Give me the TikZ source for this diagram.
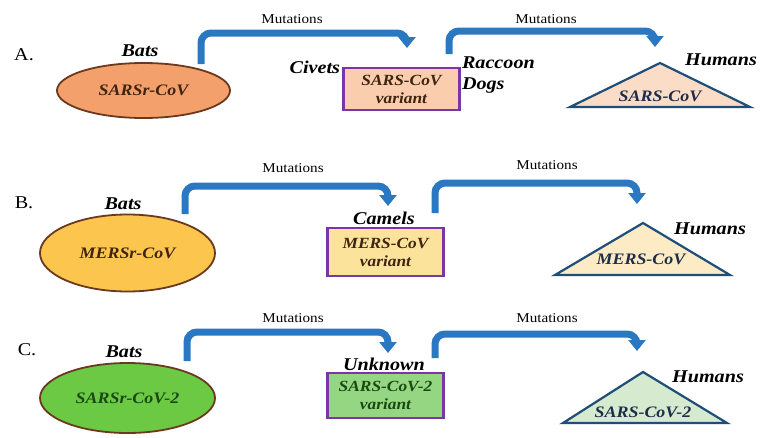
\documentclass[tikz,border=0pt]{standalone}
\usepackage{fontspec}
\setmainfont[FakeStretch=1.12]{Liberation Serif}
\usetikzlibrary{shapes.geometric,arrows.meta}
\definecolor{arrblue}{HTML}{2B78C2}
\definecolor{ellbord}{HTML}{6B3A1E}
\definecolor{boxbord}{HTML}{7A35A6}
\definecolor{tribord}{HTML}{1F4E79}
\definecolor{ellA}{HTML}{F3A06C}
\definecolor{boxA}{HTML}{F9CDAE}
\definecolor{triA}{HTML}{FBDCC6}
\definecolor{ellB}{HTML}{FCC64E}
\definecolor{boxB}{HTML}{FCE39C}
\definecolor{triB}{HTML}{FCEBC4}
\definecolor{ellC}{HTML}{6CC944}
\definecolor{boxC}{HTML}{94D681}
\definecolor{triC}{HTML}{D5EACF}
\definecolor{txtbrown}{HTML}{3F2410}
\definecolor{txtgreen}{HTML}{1A4A14}
\definecolor{txtblue}{HTML}{1E2E4A}
\tikzset{
  every node/.style={inner sep=0pt, outer sep=0pt},
  virus/.style={ellipse, draw=ellbord, line width=1.8pt, font=\fontsize{16}{18}\selectfont\bfseries\itshape},
  varbox/.style={rectangle, draw=boxbord, line width=2.4pt, minimum width=116pt, font=\fontsize{15.5}{18}\selectfont\bfseries\itshape, align=center},
  host/.style={font=\fontsize{18}{20}\selectfont\bfseries\itshape},
  hostl/.style={font=\fontsize{18}{21}\selectfont\bfseries\itshape, align=left},
  rowlabel/.style={font=\fontsize{18}{20}\selectfont},
  mut/.style={font=\fontsize{13.5}{14}\selectfont},
  flow/.style={draw=arrblue, line width=7pt, rounded corners=10pt, -{Triangle[width=17pt,length=11pt]}},
  tri/.style={draw=tribord, line width=2.2pt, line join=miter},
  tritxt/.style={font=\fontsize{16}{18}\selectfont\bfseries\itshape, text=txtblue}
}
\begin{document}
\begin{tikzpicture}[x=1pt,y=-1pt]
\useasboundingbox (0,0) rectangle (760,437);
\fill[white] (0,0) rectangle (760,437);

% ---------- Row A ----------
\node[rowlabel] (lA) at (24,55) {A.};
\node[virus, fill=ellA, minimum width=173pt, minimum height=55pt, text=txtbrown] (eA) at (143.5,90.5) {SARSr-CoV};
\node[host] (batsA) at (140,51) {Bats};
\node[varbox, fill=boxA, minimum height=42pt, text=txtbrown] (bA) at (401.5,89) {SARS-CoV\\variant};
\node[host, anchor=east] (civ) at (340,67) {Civets};
\node[hostl, anchor=north west] (rac) at (462,57) {Raccoon\\Dogs};
\coordinate (tAl) at (570,107); \coordinate (tAr) at (750,107); \coordinate (tAt) at (660,63);
\draw[tri, fill=triA] (tAl) -- (tAt) -- (tAr) -- cycle;
\node[tritxt] (tA) at (660,96) {SARS-CoV};
\node[host] (humA) at (721,60) {Humans};
\coordinate (a1s) at (201,64); \coordinate (a1e) at (407,48); \coordinate (a1h) at (0,33);
\draw[flow] (a1s) -- (a1s |- a1h) -- (a1e |- a1h) -- (a1e);
\coordinate (a2s) at (449,54); \coordinate (a2e) at (655,47); \coordinate (a2h) at (0,31);
\draw[flow] (a2s) -- (a2s |- a2h) -- (a2e |- a2h) -- (a2e);
\node[mut] (mA1) at (292,19) {Mutations};
\node[mut] (mA2) at (546,19) {Mutations};

% ---------- Row B ----------
\node[rowlabel] (lB) at (24,203) {B.};
\node[virus, fill=ellB, minimum width=175pt, minimum height=77pt, text=txtbrown] (eB) at (127.5,253) {MERSr-CoV};
\node[host] (batsB) at (123,204) {Bats};
\node[varbox, fill=boxB, minimum height=48pt, text=txtbrown] (bB) at (385.5,252) {MERS-CoV\\variant};
\node[host] (cam) at (384,218) {Camels};
\coordinate (tBl) at (555,275); \coordinate (tBr) at (730,275); \coordinate (tBt) at (643,223);
\draw[tri, fill=triB] (tBl) -- (tBt) -- (tBr) -- cycle;
\node[tritxt] (tB) at (641,259) {MERS-CoV};
\node[host] (humB) at (710,229) {Humans};
\coordinate (b1s) at (185,214); \coordinate (b1e) at (388,206); \coordinate (b1h) at (0,186);
\draw[flow] (b1s) -- (b1s |- b1h) -- (b1e |- b1h) -- (b1e);
\coordinate (b2s) at (435,213); \coordinate (b2e) at (637,204); \coordinate (b2h) at (0,183);
\draw[flow] (b2s) -- (b2s |- b2h) -- (b2e |- b2h) -- (b2e);
\node[mut] (mB1) at (293,168) {Mutations};
\node[mut] (mB2) at (547,165) {Mutations};

% ---------- Row C ----------
\node[rowlabel] (lC) at (27,350) {C.};
\node[virus, fill=ellC, minimum width=175pt, minimum height=70pt, text=txtgreen] (eC) at (127.5,398) {SARSr-CoV-2};
\node[host] (batsC) at (124,352) {Bats};
\node[varbox, fill=boxC, minimum height=45pt, text=txtgreen] (bC) at (385.5,395.5) {SARS-CoV-2\\variant};
\node[host] (unk) at (384,364) {Unknown};
\coordinate (tCl) at (563,423); \coordinate (tCr) at (727,423); \coordinate (tCt) at (643,372);
\draw[tri, fill=triC] (tCl) -- (tCt) -- (tCr) -- cycle;
\node[tritxt] (tC) at (643,412) {SARS-CoV-2};
\node[host] (humC) at (708,377) {Humans};
\coordinate (c1s) at (187,361); \coordinate (c1e) at (388,353); \coordinate (c1h) at (0,332);
\draw[flow] (c1s) -- (c1s |- c1h) -- (c1e |- c1h) -- (c1e);
\coordinate (c2s) at (435,358); \coordinate (c2e) at (637,351); \coordinate (c2h) at (0,334);
\draw[flow] (c2s) -- (c2s |- c2h) -- (c2e |- c2h) -- (c2e);
\node[mut] (mC1) at (293,318) {Mutations};
\node[mut] (mC2) at (547,318) {Mutations};
\end{tikzpicture}
\end{document}
